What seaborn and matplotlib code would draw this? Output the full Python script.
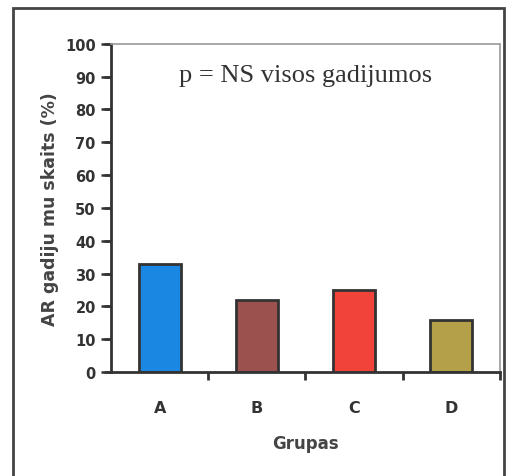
import matplotlib
matplotlib.use('Agg')
import matplotlib.pyplot as plt
import seaborn as sns
import pandas as pd
from matplotlib.patches import Rectangle

groups = ['A', 'B', 'C', 'D']
values = [33, 22, 25, 16]
bar_colors = ['#1a88e2', '#9b524e', '#f2433a', '#b3a048']
y_ticks = [0, 10, 20, 30, 40, 50, 60, 70, 80, 90, 100]

sns.set_style('white')
plt.rcParams['font.family'] = ['DejaVu Sans']
plt.rcParams['font.weight'] = 'bold'

df = pd.DataFrame({'group': groups, 'value': values})

fig = plt.figure(figsize=(5.07, 4.77), dpi=100)
ax = fig.add_axes([0.219, 0.218, 0.767, 0.688])

sns.barplot(data=df, x='group', y='value', hue='group', palette=bar_colors,
            width=0.43, edgecolor='#333333', linewidth=2, legend=False,
            dodge=False, saturation=1, ax=ax)

ax.set_xlim(-0.5, 3.5)
ax.set_ylim(0, 100)
ax.set_yticks(y_ticks)

# category labels without ticks, ticks between the groups
ax.set_xticks(range(len(groups)))
ax.set_xticklabels(groups)
ax.set_xticks([0.5, 1.5, 2.5, 3.5], minor=True)
ax.tick_params(axis='x', which='major', bottom=False, length=0, pad=20,
               labelsize=11.5, labelcolor='#333333')
ax.tick_params(axis='x', which='minor', bottom=True, length=6, width=2,
               color='#333333', direction='out')
ax.tick_params(axis='y', which='major', left=True, length=7, width=1.8,
               color='#333333', direction='out', pad=4,
               labelsize=10.5, labelcolor='#333333')
# y tick marks drawn outside the axes
ax.hlines(y_ticks, -0.018, 0, transform=ax.get_yaxis_transform(),
          color='#333333', linewidth=1.8, clip_on=False)

for side in ['left', 'bottom']:
    ax.spines[side].set_color('#333333')
    ax.spines[side].set_linewidth(2)
for side in ['top', 'right']:
    ax.spines[side].set_color('#999999')
    ax.spines[side].set_linewidth(1.2)
    ax.spines[side].set_linestyle((0, (2, 1)))

ax.set_xlabel('Grupas', fontsize=12, fontweight='bold', color='#444444',
              labelpad=14)
ax.set_ylabel('AR gadiju mu skaits (%)', fontsize=12.5, fontweight='bold',
              color='#444444', labelpad=4)

ax.text(0.5, 0.905, 'p = NS visos gadijumos', transform=ax.transAxes,
        ha='center', va='center', fontsize=19, color='#333333',
        fontweight='normal', family=['Liberation Serif', 'DejaVu Serif'])

# outer frame around the whole figure
fig.patches.append(Rectangle((0.026, -0.05), 0.968, 1.031,
                             transform=fig.transFigure, fill=False,
                             edgecolor='#444444', linewidth=2))

fig.savefig('out.png', dpi=100)
